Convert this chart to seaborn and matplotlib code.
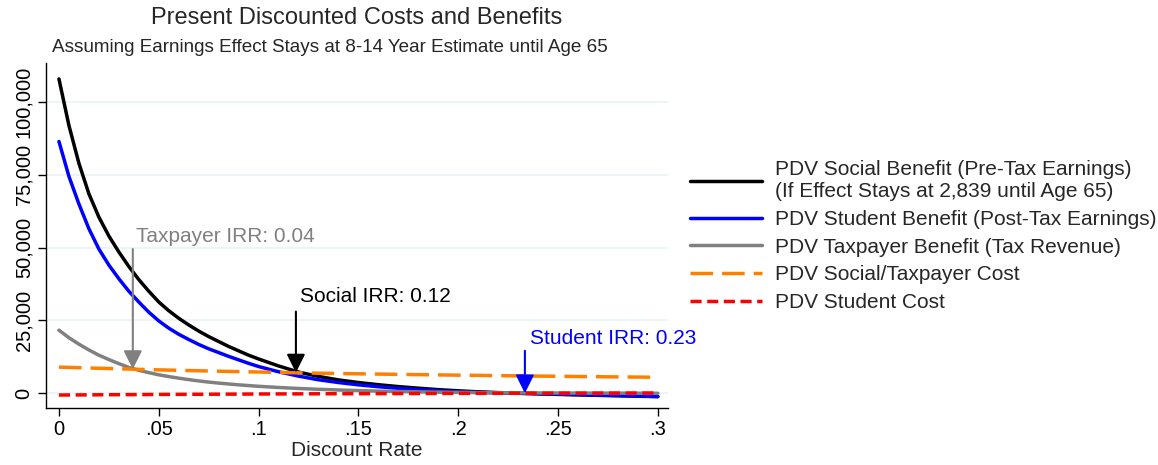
import numpy as np
import pandas as pd
import seaborn as sns
import matplotlib.pyplot as plt

# discount rates and values
# benefits are sampled more finely where the curves bend sharply
rate_fine = [0.000, 0.005, 0.010, 0.015, 0.020, 0.025, 0.030, 0.035, 0.040, 0.045, 0.050,
             0.055, 0.060, 0.065, 0.070, 0.075, 0.080, 0.085, 0.090, 0.095, 0.100,
             0.11, 0.12, 0.13, 0.14, 0.15, 0.16, 0.17, 0.18, 0.19, 0.20,
             0.21, 0.22, 0.23, 0.24, 0.25, 0.26, 0.27, 0.28, 0.29, 0.30]

social_benefit = [108000, 92000, 79000, 68500, 60500, 54000, 48500, 43500, 39000, 35000, 31300,
                  28300, 25700, 23400, 21300, 19400, 17700, 16000, 14500, 13000, 11700,
                  9300, 7200, 5700, 4500, 3600, 2850, 2200, 1650, 1150, 750,
                  400, 130, -100, -300, -480, -650, -810, -960, -1110, -1250]
student_benefit = [86500, 74500, 65000, 56500, 49500, 44000, 39300, 35000, 31300, 27800, 24800,
                   22300, 20200, 18400, 16700, 15200, 13900, 12600, 11400, 10200, 9100,
                   7300, 5800, 4550, 3600, 2800, 2150, 1600, 1150, 780, 480,
                   230, 60, -80, -240, -400, -560, -720, -880, -1040, -1200]
taxpayer_benefit = [21600, 19000, 16800, 14800, 13000, 11500, 10100, 8800, 7800, 7000, 6250,
                    5650, 5100, 4600, 4150, 3750, 3400, 3100, 2800, 2550, 2300,
                    1900, 1550, 1270, 1030, 830, 650, 500, 380, 280, 200,
                    130, 80, 40, 10, -10, -30, -50, -60, -80, -100]

rate = [0.00, 0.01, 0.02, 0.03, 0.04, 0.05, 0.06, 0.07, 0.08, 0.09, 0.10,
        0.11, 0.12, 0.13, 0.14, 0.15, 0.16, 0.17, 0.18, 0.19, 0.20,
        0.21, 0.22, 0.23, 0.24, 0.25, 0.26, 0.27, 0.28, 0.29, 0.30]
social_cost = [8900, 8700, 8510, 8320, 8130, 7950, 7790, 7640, 7490, 7350, 7210,
               7070, 6940, 6810, 6700, 6600, 6500, 6400, 6310, 6220, 6130,
               6050, 5970, 5890, 5810, 5740, 5670, 5600, 5530, 5470, 5400]
student_cost = [-700, -660, -620, -580, -540, -500, -470, -440, -410, -380, -350,
                -320, -300, -270, -250, -230, -210, -190, -170, -150, -130,
                -120, -100, -90, -80, -70, -60, -50, -40, -30, -20]

labels = ['PDV Social Benefit (Pre-Tax Earnings)\n(If Effect Stays at 2,839 until Age 65)',
          'PDV Student Benefit (Post-Tax Earnings)',
          'PDV Taxpayer Benefit (Tax Revenue)',
          'PDV Social/Taxpayer Cost',
          'PDV Student Cost']

# IRR annotations
irr_text = ['Taxpayer IRR: 0.04', 'Social IRR: 0.12', 'Student IRR: 0.23']
irr_rate = [0.037, 0.1187, 0.2334]
irr_top = [49500, 28000, 14500]
irr_bottom = [8200, 7000, -100]

sns.set_style('white')
plt.rcParams['font.family'] = ['Liberation Sans', 'DejaVu Sans']

fig = plt.figure(figsize=(11.58, 4.65), dpi=100)
ax = fig.add_axes([0.0397, 0.1226, 0.537, 0.742])

xs = [rate_fine, rate_fine, rate_fine, rate, rate]
series = [social_benefit, student_benefit, taxpayer_benefit, social_cost, student_cost]
colors = ['black', '#0000ff', '#808080', '#ff8000', '#ff0000']
styles = ['-', '-', '-', (0, (6.5, 2.6)), (0, (3.2, 1.6))]

for x, vals, lab, col, ls in zip(xs, series, labels, colors, styles):
    sns.lineplot(x=x, y=vals, ax=ax, color=col, lw=2.5, label=lab, linestyle=ls)

ax.set_xlim(-0.0065, 0.305)
ax.set_ylim(-5160, 113500)
ax.set_xticks([0, .05, .1, .15, .2, .25, .3])
ax.set_xticklabels(['0', '.05', '.1', '.15', '.2', '.25', '.3'])
ax.set_yticks([0, 25000, 50000, 75000, 100000])
ax.set_yticklabels(['0', '25,000', '50,000', '75,000', '100,000'], rotation=90, va='center')
ax.yaxis.grid(True, color='#eaf2f3', lw=1.2)
ax.set_axisbelow(True)
ax.tick_params(axis='both', labelsize=14.5, length=6, width=1, direction='out',
               left=True, bottom=True, colors='black', pad=3)
for s in ['top', 'right']:
    ax.spines[s].set_visible(False)
for s in ['left', 'bottom']:
    ax.spines[s].set_color('black')
    ax.spines[s].set_linewidth(1)
ax.set_xlabel('Discount Rate', fontsize=15, labelpad=1)
ax.set_ylabel('')

# arrows and labels for the internal rates of return
text_xy = [(0.0386, 53650), (0.1207, 33350), (0.2359, 18900)]
ann_colors = ['#808080', 'black', '#0000ff']
for t, r, y0, y1, (tx, ty), c in zip(irr_text, irr_rate, irr_top, irr_bottom, text_xy, ann_colors):
    ax.annotate('', xy=(r, y1), xytext=(r, y0),
                arrowprops=dict(arrowstyle='-|>', color=c, lw=1.5, mutation_scale=28,
                                shrinkA=0, shrinkB=0))
    ax.text(tx, ty, t, color=c, fontsize=15, va='center', ha='left')

fig.text(0.308, 0.962, 'Present Discounted Costs and Benefits', fontsize=17, ha='center', va='center')
fig.text(0.285, 0.898, 'Assuming Earnings Effect Stays at 8-14 Year Estimate until Age 65',
         fontsize=13.6, ha='center', va='center')

leg = ax.legend(loc='center left', bbox_to_anchor=(0.58, 0.492), bbox_transform=fig.transFigure,
                frameon=False, fontsize=15, handlelength=3.45, handletextpad=0.6,
                labelspacing=0.42)

fig.savefig('out.png', dpi=100)
